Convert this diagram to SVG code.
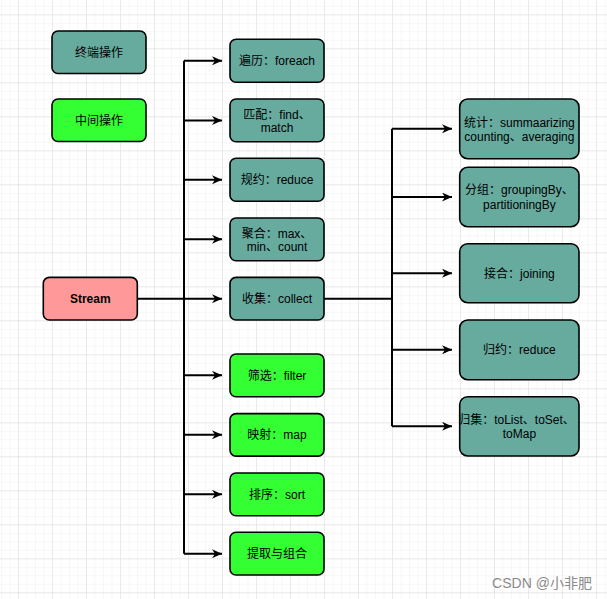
<svg xmlns="http://www.w3.org/2000/svg" width="607" height="599" viewBox="0 0 607 599">
<defs>
<pattern id="minor" x="18" y="14.3" width="8.5" height="8.5" patternUnits="userSpaceOnUse">
<path d="M0,0 H8.5 M0,0 V8.5" fill="none" stroke="#f0f0f0" stroke-width="1"/>
</pattern>
<pattern id="major" x="18" y="14.3" width="34" height="34" patternUnits="userSpaceOnUse">
<path d="M0,0 H34 M0,0 V34" fill="none" stroke="#dedede" stroke-width="1"/>
</pattern>
<marker id="arr" viewBox="0 0 10 9" refX="10" refY="4.5" markerWidth="10" markerHeight="9" markerUnits="userSpaceOnUse" orient="auto">
<path d="M0,0 L10,4.5 L0,9 L3,4.5 Z" fill="#000"/>
</marker>
</defs>
<style>
.n rect{stroke:#000;stroke-width:1.6}
.t rect{fill:#67AB9F}
.g rect{fill:#33FF33}
.s rect{fill:#FF9999}
text{font-family:"Liberation Sans","Noto Sans CJK SC",sans-serif;font-size:12px;fill:#000;text-anchor:middle}
.c path{fill:none;stroke:#000;stroke-width:2}
.ca path{marker-end:url(#arr)}
</style>
<rect width="607" height="599" fill="#fff"/>
<rect width="607" height="599" fill="url(#minor)"/>
<rect width="607" height="599" fill="url(#major)"/>

<g id="connectors" class="c">
<path d="M184,60.8 V553.7"/>
<path d="M137,298.7 H184"/>
<path d="M324,298.7 H392"/>
<path d="M392,128.8 V426.3"/>
<g class="ca">
<path d="M184,60.8 H222"/>
<path d="M184,120.4 H222"/>
<path d="M184,179.8 H222"/>
<path d="M184,239.3 H222"/>
<path d="M184,298.7 H222"/>
<path d="M184,375.3 H222"/>
<path d="M184,434.8 H222"/>
<path d="M184,494.3 H222"/>
<path d="M184,553.7 H222"/>
<path d="M392,128.8 H452"/>
<path d="M392,197 H452"/>
<path d="M392,273.2 H452"/>
<path d="M392,349.8 H452"/>
<path d="M392,426.3 H452"/>
</g>
</g>

<g id="legend-terminal" class="n t"><rect x="52" y="31" width="94" height="42.5" rx="6"/><text x="99" y="56.5">终端操作</text></g>
<g id="legend-middle" class="n g"><rect x="52" y="99" width="94" height="42.5" rx="6"/><text x="99" y="124.5">中间操作</text></g>

<g id="stream" class="n s"><rect x="43.3" y="277.4" width="94" height="42.6" rx="6"/><text x="90.3" y="303" font-weight="bold">Stream</text></g>

<g id="foreach" class="n t"><rect x="230" y="39.3" width="94" height="43" rx="6"/><text x="277" y="65.1">遍历：foreach</text></g>
<g id="match" class="n t"><rect x="230" y="99" width="94" height="42.7" rx="6"/><text x="277" y="118.6">匹配：find、</text><text x="277" y="132">match</text></g>
<g id="reduce1" class="n t"><rect x="230" y="158.3" width="94" height="43" rx="6"/><text x="277" y="184.1">规约：reduce</text></g>
<g id="aggregate" class="n t"><rect x="230" y="218" width="94" height="42.7" rx="6"/><text x="277" y="237.6">聚合：max、</text><text x="277" y="251">min、count</text></g>
<g id="collect" class="n t"><rect x="230" y="277.4" width="94" height="42.6" rx="6"/><text x="277" y="303">收集：collect</text></g>
<g id="filter" class="n g"><rect x="230" y="354" width="94" height="42.7" rx="6"/><text x="277" y="379.6">筛选：filter</text></g>
<g id="map" class="n g"><rect x="230" y="413.6" width="94" height="42.5" rx="6"/><text x="277" y="439.1">映射：map</text></g>
<g id="sort" class="n g"><rect x="230" y="473" width="94" height="42.7" rx="6"/><text x="277" y="498.6">排序：sort</text></g>
<g id="combine" class="n g"><rect x="230" y="532.3" width="94" height="42.7" rx="6"/><text x="277" y="558">提取与组合</text></g>

<g id="stats" class="n t"><rect x="459.7" y="99" width="119.3" height="59.7" rx="8"/><text x="519.4" y="126.6">统计：summaarizing</text><text x="519.4" y="141">counting、averaging</text></g>
<g id="group" class="n t"><rect x="459.7" y="167.3" width="119.3" height="59.4" rx="8"/><text x="519.4" y="194.3">分组：groupingBy、</text><text x="519.4" y="208.6">partitioningBy</text></g>
<g id="joining" class="n t"><rect x="459.7" y="243.7" width="119.3" height="59" rx="8"/><text x="519.4" y="277.5">接合：joining</text></g>
<g id="reduce2" class="n t"><rect x="459.7" y="320" width="119.3" height="59.7" rx="8"/><text x="519.4" y="354.3">归约：reduce</text></g>
<g id="toColl" class="n t"><rect x="459.7" y="396.7" width="119.3" height="59.3" rx="8"/><text x="516.5" y="423.8">归集：toList、toSet、</text><text x="519.4" y="438">toMap</text></g>

<text x="542" y="587.5" style="font-size:14px;fill:#8a8a8a">CSDN @小非肥</text>
</svg>
